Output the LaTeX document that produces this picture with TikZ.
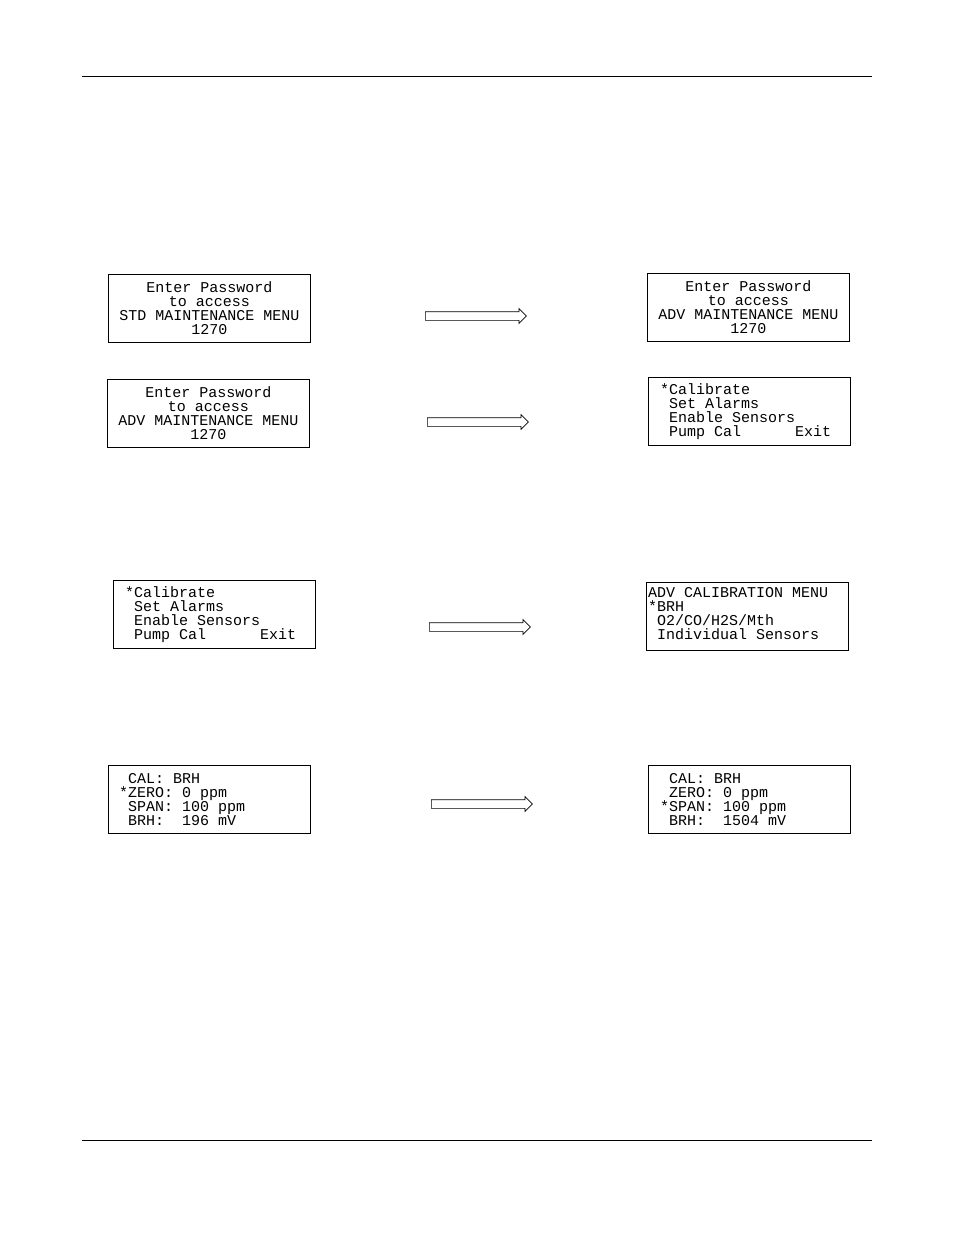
\documentclass[tikz,border=0pt]{standalone}
\usepackage{fontspec}
\newfontfamily\lcd[WordSpace={1,0,0}]{Liberation Mono}
\usetikzlibrary{shapes.arrows}
\tikzset{
  scr/.style={draw, line width=0.8pt, minimum width=202pt, minimum height=68pt, inner sep=0pt, anchor=north west},
  txt/.style={font=\lcd\fontsize{15}{14}\selectfont, inner sep=0pt},
  blk/.style={draw, line width=0.7pt, single arrow, single arrow head extend=3pt, single arrow head indent=0pt, minimum height=101pt, inner xsep=0pt, inner ysep=4pt, shape border rotate=0, anchor=west}
}
\begin{document}
\begin{tikzpicture}[x=1pt,y=-1pt]
\useasboundingbox (0,0) rectangle (954,1235);
\draw[line width=0.8pt] (82,76) -- (872,76);
\draw[line width=0.8pt] (82,1140) -- (872,1140);

\node[scr] (b1) at (108,274) {};
\node[txt, align=center] (t1) at (b1.center) {Enter Password\\to access\\STD MAINTENANCE MENU\\1270};
\node[scr] (b2) at (647,273) {};
\node[txt, align=center] (t2) at (b2.center) {Enter Password\\to access\\ADV MAINTENANCE MENU\\1270};
\node[scr] (b3) at (107,379) {};
\node[txt, align=center] (t3) at (b3.center) {Enter Password\\to access\\ADV MAINTENANCE MENU\\1270};
\node[scr] (b4) at (648,377) {};
\node[txt, align=left, anchor=west] (t4) at ([xshift=12pt]b4.west) {*Calibrate\\~Set Alarms\\~Enable Sensors\\~Pump Cal~~~~~~Exit};
\node[scr] (b5) at (113,580) {};
\node[txt, align=left, anchor=west] (t5) at ([xshift=12pt]b5.west) {*Calibrate\\~Set Alarms\\~Enable Sensors\\~Pump Cal~~~~~~Exit};
\node[scr] (b6) at (646,582) {};
\node[txt, align=left, anchor=west] (t6) at ([xshift=2pt,yshift=3pt]b6.west) {ADV CALIBRATION MENU\\*BRH\\~O2/CO/H2S/Mth\\~Individual Sensors};
\node[scr] (b7) at (108,765) {};
\node[txt, align=left, anchor=west] (t7) at ([xshift=11pt]b7.west) {~CAL: BRH\\*ZERO: 0 ppm\\~SPAN: 100 ppm\\~BRH:~~196 mV};
\node[scr] (b8) at (648,765) {};
\node[txt, align=left, anchor=west] (t8) at ([xshift=12pt]b8.west) {~CAL: BRH\\~ZERO: 0 ppm\\*SPAN: 100 ppm\\~BRH:~~1504 mV};

\node[blk] (a1) at (425,316) {};
\node[blk] (a2) at (427,422) {};
\node[blk] (a3) at (429,627) {};
\node[blk] (a4) at (431,804) {};
\end{tikzpicture}
\end{document}
